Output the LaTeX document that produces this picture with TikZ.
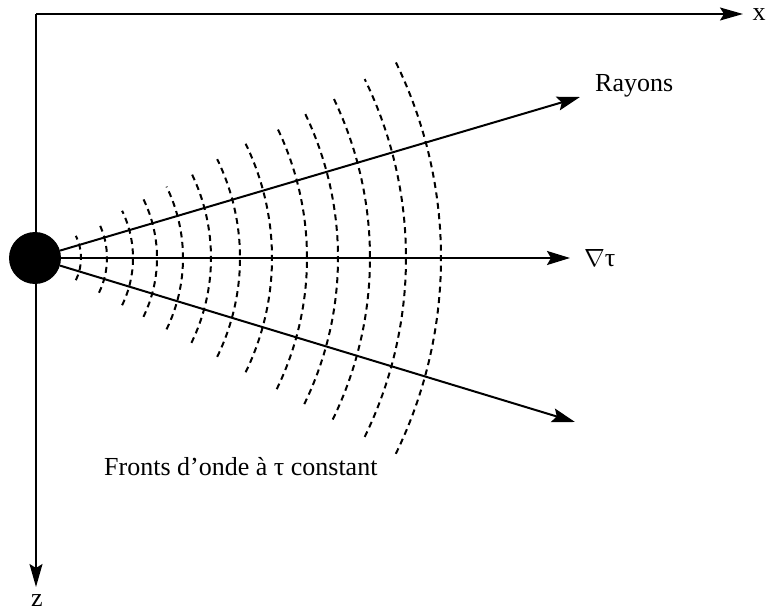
\documentclass[tikz,border=0pt]{standalone}
\usepackage{fontspec}
\setmainfont{Liberation Serif}
\usetikzlibrary{arrows.meta,calc}

\begin{document}
\begin{tikzpicture}[x=1pt,y=-1pt,font=\fontsize{26}{30}\selectfont,
  axis/.style={line width=1.5pt,-{Stealth[length=23pt,width=13pt,inset=4pt]}},
  ray/.style={line width=2pt,-{Stealth[length=23pt,width=14pt,inset=4pt]}},
  front/.style={line width=2pt,dash pattern=on 6pt off 4.5pt},
  lbl/.style={inner sep=0pt}]
\useasboundingbox (0,0) rectangle (766,615);
\coordinate (o) at (36,14);
\coordinate (xend) at (743,14);
\coordinate (zend) at (36,587);
\draw[axis] (o) -- (xend);
\draw[axis] (o) -- (zend);
\node[lbl] (xl) at (759,15) {x};
\node[lbl] (zl) at (37,601) {z};
\node[circle,fill,minimum size=52pt,inner sep=0pt] (src) at (35,258) {};
\foreach \d [evaluate=\d as \R using 1.1*\d] in {46,72,98,122,148,176,205,237,272,303,335,371,406}
  \draw[front] ($(src.center)+({-0.1*\d},0)+(-26:\R pt)$) arc[start angle=-26,end angle=26,radius=\R pt];
\coordinate (r1) at (580,97);
\coordinate (r2) at (570,258);
\coordinate (r3) at (575,422);
\draw[ray] (src) -- (r1);
\draw[ray] (src) -- (r2);
\draw[ray] (src) -- (r3);
\node[lbl,anchor=base west] (rayons) at (595,92) {Rayons};
\node[lbl,anchor=base west] (grad) at (584,266) {$\nabla$τ};
\node[lbl,anchor=base west] (fronts) at (104,475) {Fronts d'onde à τ constant};
\end{tikzpicture}
\end{document}
